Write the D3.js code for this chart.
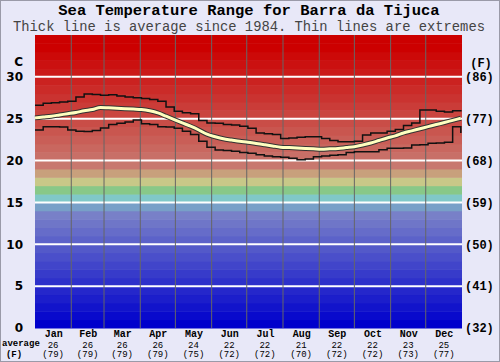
<!DOCTYPE html>
<html>
<head>
<meta charset="utf-8">
<script src="https://cdn.jsdelivr.net/npm/d3@7"></script>
<style>
  body { margin: 0; background: #e8e8f8; }
  svg { display: block; }
</style>
</head>
<body>
<div id="chart"></div>
<script>
var months = ["Jan", "Feb", "Mar", "Apr", "May", "Jun", "Jul", "Aug", "Sep", "Oct", "Nov", "Dec"];
var monthStarts = [0, 31, 59, 90, 120, 151, 181, 212, 243, 273, 304, 334, 365];
var monthAvgC = [26, 26, 26, 26, 24, 22, 22, 21, 22, 22, 23, 25];
var monthAvgF = [79, 79, 79, 79, 75, 72, 72, 70, 72, 72, 73, 77];

// sample days (weekly) and readings in C
var days = [0, 7, 14, 21, 28, 35, 42, 49, 56, 63, 70, 77, 84, 91, 98, 105, 112, 119, 126, 133,
  140, 147, 154, 161, 168, 175, 182, 189, 196, 203, 210, 217, 224, 231, 238, 245, 252, 259,
  266, 273, 280, 287, 294, 301, 308, 315, 322, 329, 336, 343, 350, 357, 364];
var avgTemp = [25.1, 25.2, 25.3, 25.45, 25.6, 25.75, 25.95, 26.1, 26.35, 26.3, 26.25, 26.2, 26.15,
  26.1, 25.95, 25.7, 25.3, 24.9, 24.5, 24.1, 23.65, 23.15, 22.85, 22.6, 22.45, 22.3, 22.2, 22.05,
  21.9, 21.75, 21.6, 21.55, 21.5, 21.45, 21.4, 21.35, 21.4, 21.45, 21.55, 21.65, 21.85, 22.1, 22.4,
  22.7, 22.95, 23.3, 23.55, 23.8, 24.05, 24.3, 24.55, 24.8, 25.05];
var maxTemp = [26.6, 26.85, 26.9, 27.0, 27.1, 27.6, 27.95, 27.9, 27.8, 27.85, 27.7, 27.6, 27.5,
  27.4, 27.3, 27.1, 26.4, 25.9, 25.7, 25.6, 24.8, 24.5, 24.45, 24.3, 24.25, 24.1, 23.85, 23.3,
  23.2, 23.1, 22.65, 22.7, 22.8, 22.85, 22.86, 22.65, 22.4, 22.25, 22.25, 22.3, 23.06, 23.3, 23.3,
  23.5, 23.7, 24.2, 24.5, 26.05, 26.05, 25.9, 25.8, 25.95, 26.05];
var minTemp = [23.65, 24.05, 24.05, 24.0, 23.65, 23.5, 23.46, 23.6, 23.9, 24.3, 24.45, 24.6, 24.85,
  24.4, 24.3, 24.05, 24.0, 23.85, 23.5, 23.1, 22.3, 21.6, 21.25, 21.2, 21.1, 20.95, 20.86, 20.7,
  20.55, 20.47, 20.4, 20.27, 20.1, 20.2, 20.47, 20.55, 20.65, 20.7, 20.95, 21.06, 21.06, 21.06,
  21.3, 21.46, 21.46, 21.5, 21.86, 21.9, 22.06, 22.1, 22.2, 24.05, 23.3];

var yTicks = [0, 5, 10, 15, 20, 25, 30];

var w = 500, h = 362;
var mono = "'Liberation Mono', 'Courier New', monospace";

var svg = d3.select("#chart")
  .append("svg")
  .attr("width", w)
  .attr("height", h);

svg.append("rect")
  .attr("x", 0.5).attr("y", 0.5)
  .attr("width", w - 1).attr("height", h - 1)
  .style("fill", "#e8e8f8")
  .style("stroke", "#9a9aa8");

var x = d3.scaleLinear().domain([0, 365]).range([35, 462]);
var y = d3.scaleLinear().domain([0, 35]).range([328, 35]);

// background colour bands, one per degree
var reds = d3.interpolateRgb("#cc0000", "#c8786f");
var blues = d3.interpolateRgb("#0000cc", "#7880c8");
function bandColor(i) {
  if (i >= 33) return "#cc0000";
  if (i >= 19) return reds((33 - i) / 14);
  if (i == 18) return "#c8a07c";
  if (i == 17) return "#c8c888";
  if (i == 16) return "#88c888";
  if (i == 15) return "#80c8c8";
  if (i == 14) return "#78a0c8";
  return blues(i / 13);
}

svg.append("g")
  .selectAll("rect")
  .data(d3.range(0, 35))
  .enter()
    .append("rect")
    .attr("x", x(0))
    .attr("width", x(365) - x(0))
    .attr("y", function(d) { return y(d + 1); })
    .attr("height", function(d) { return y(d) - y(d + 1) + 0.5; })
    .style("fill", function(d) { return bandColor(d); });

// horizontal grid
svg.append("g")
  .selectAll("line")
  .data(yTicks.slice(1))
  .enter()
    .append("line")
    .attr("x1", x(0)).attr("x2", x(365))
    .attr("y1", function(d) { return y(d); })
    .attr("y2", function(d) { return y(d); })
    .style("stroke", "#ffffff")
    .style("stroke-width", 2);

// month separators
svg.append("g")
  .selectAll("line")
  .data(monthStarts.slice(1, 12))
  .enter()
    .append("line")
    .attr("x1", function(d) { return x(d); })
    .attr("x2", function(d) { return x(d); })
    .attr("y1", y(35)).attr("y2", y(0))
    .style("stroke", "#666666")
    .style("stroke-width", 1);

var pts = days.map(function(d, i) {
  return { day: d, avg: avgTemp[i], max: maxTemp[i], min: minTemp[i] };
});

var stepLine = function(key) {
  return d3.line()
    .curve(d3.curveStepAfter)
    .x(function(d) { return x(d.day); })
    .y(function(d) { return y(d[key]); });
};
var avgLine = d3.line()
  .curve(d3.curveMonotoneX)
  .x(function(d) { return x(d.day); })
  .y(function(d) { return y(d.avg); });

["max", "min"].forEach(function(k) {
  svg.append("path")
    .datum(pts)
    .attr("d", stepLine(k))
    .style("fill", "none")
    .style("stroke", "#111")
    .style("stroke-width", 1.5);
});

svg.append("path")
  .datum(pts)
  .attr("d", avgLine)
  .style("fill", "none")
  .style("stroke", "#333")
  .style("stroke-width", 5);

svg.append("path")
  .datum(pts)
  .attr("d", avgLine)
  .style("fill", "none")
  .style("stroke", "#ffffc0")
  .style("stroke-width", 3);

// axes
var leftAxis = svg.append("g")
  .attr("transform", "translate(" + x(0) + ",0)")
  .call(d3.axisLeft(y).tickValues(yTicks).tickSize(0).tickPadding(12));
leftAxis.select(".domain").remove();
leftAxis.selectAll("text")
  .style("font-family", "'DejaVu Sans', sans-serif")
  .style("font-size", "12px")
  .style("font-weight", "bold")
  .style("fill", "#000");

var rightAxis = svg.append("g")
  .attr("transform", "translate(" + x(365) + ",0)")
  .call(d3.axisRight(y).tickValues(yTicks).tickSize(0).tickPadding(3)
    .tickFormat(function(d) { return "(" + Math.round(d * 9 / 5 + 32) + ")"; }));
rightAxis.select(".domain").remove();
rightAxis.selectAll("text")
  .style("font-family", mono)
  .style("font-size", "12px")
  .style("font-weight", "bold")
  .style("fill", "#000");

var monthMids = months.map(function(m, i) { return (monthStarts[i] + monthStarts[i + 1]) / 2; });
var bottomAxis = svg.append("g")
  .attr("transform", "translate(0," + y(0) + ")")
  .call(d3.axisBottom(x).tickValues(monthMids).tickSize(0).tickPadding(2)
    .tickFormat(function(d, i) { return months[i]; }));
bottomAxis.select(".domain").remove();
bottomAxis.selectAll("text")
  .style("font-family", mono)
  .style("font-size", "10px")
  .style("font-weight", "bold")
  .style("fill", "#000");

svg.append("g")
  .selectAll("text")
  .data(monthAvgC)
  .enter()
    .append("text")
    .attr("x", function(d, i) { return x(monthMids[i]); })
    .attr("y", 348)
    .attr("text-anchor", "middle")
    .style("font-family", mono)
    .style("font-size", "9px")
    .text(function(d) { return d; });

svg.append("g")
  .selectAll("text")
  .data(monthAvgF)
  .enter()
    .append("text")
    .attr("x", function(d, i) { return x(monthMids[i]); })
    .attr("y", 357)
    .attr("text-anchor", "middle")
    .style("font-family", mono)
    .style("font-size", "9px")
    .text(function(d) { return "(" + d + ")"; });

svg.append("text")
  .attr("x", 2).attr("y", 346)
  .style("font-family", mono).style("font-size", "9px").style("font-weight", "bold")
  .text("average");
svg.append("text")
  .attr("x", 14).attr("y", 357)
  .attr("text-anchor", "middle")
  .style("font-family", mono).style("font-size", "9px").style("font-weight", "bold")
  .text("(F)");

svg.append("text")
  .attr("x", 23).attr("y", 66)
  .attr("text-anchor", "end")
  .style("font-family", "'DejaVu Sans', sans-serif").style("font-size", "12px").style("font-weight", "bold")
  .text("C");
svg.append("text")
  .attr("x", 481).attr("y", 67)
  .attr("text-anchor", "middle")
  .style("font-family", mono).style("font-size", "12px").style("font-weight", "bold")
  .text("(F)");

// titles
svg.append("text")
  .attr("x", 249).attr("y", 15)
  .attr("text-anchor", "middle")
  .style("font-family", mono).style("font-size", "15.5px").style("font-weight", "bold")
  .style("fill", "#000")
  .text("Sea Temperature Range for Barra da Tijuca");
svg.append("text")
  .attr("x", 249).attr("y", 31)
  .attr("text-anchor", "middle")
  .style("font-family", mono).style("font-size", "13.8px")
  .style("fill", "#444")
  .text("Thick line is average since 1984. Thin lines are extremes");
</script>
</body>
</html>
